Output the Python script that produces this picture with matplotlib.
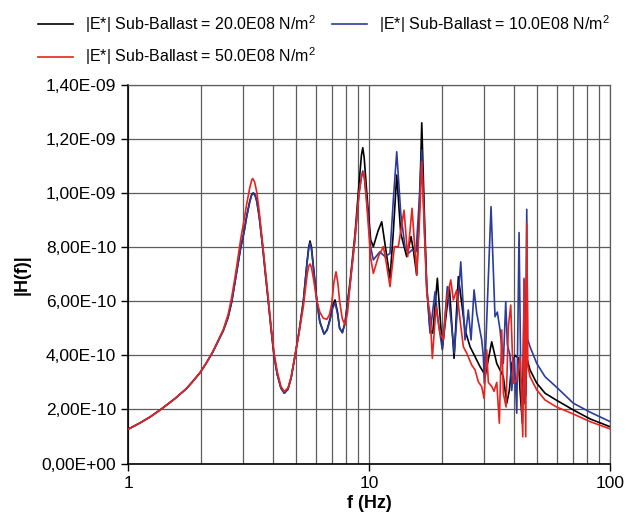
import matplotlib
matplotlib.use("Agg")
import matplotlib.pyplot as plt
from matplotlib.ticker import FixedLocator, FixedFormatter, NullFormatter

plt.rcParams['font.family'] = ['Liberation Sans', 'DejaVu Sans']
plt.rcParams['mathtext.fontset'] = 'custom'
plt.rcParams['mathtext.rm'] = 'Liberation Sans'
plt.rcParams['mathtext.it'] = 'Liberation Sans:italic'

# |H(f)| in units of 1e-10
f_20 = [1.0, 1.121, 1.234, 1.358, 1.401, 1.566, 1.752, 1.85, 1.990, 2.1, 2.19, 2.259,
        2.486, 2.6, 2.693, 2.81, 2.935, 3.03, 3.108, 3.2, 3.26, 3.311, 3.37, 3.42, 3.5,
        3.622, 3.72, 3.821, 3.92, 4.035, 4.16, 4.31, 4.452, 4.61, 4.75, 4.932, 5.12,
        5.339, 5.53, 5.62, 5.691, 5.77, 5.89, 6.08, 6.25, 6.507, 6.7, 6.89, 7.05, 7.225,
        7.4, 7.55, 7.75, 7.95, 8.34, 8.75, 9.09, 9.3, 9.42, 9.55, 9.84, 10.16,
        10.42, 10.9, 11.29, 11.7, 12.22, 12.6, 13.03, 13.54, 14.33, 14.94, 15.27, 15.77,
        16.2, 16.55, 17.0, 17.36, 17.91, 18.38, 19.21, 20.15, 21.54, 22.53, 23.48, 25.02,
        26.25, 27.54, 28.88, 30.01, 30.29, 32.29, 33.88, 36.08, 37.28, 38.21, 39.10, 40.36,
        41.65, 42.33, 43.27, 44.10, 44.6, 45.13, 46.56, 49.65, 53.74, 59.70, 70.42, 82.6,
        100.0]
h_20 = [1.265, 1.50, 1.72, 1.98, 2.07, 2.40, 2.78, 3.02, 3.36, 3.68, 3.95, 4.16,
        4.92, 5.4, 5.98, 6.97, 7.99, 8.56, 9.15, 9.7, 9.95, 10.01, 9.92, 9.72, 9.16,
        7.99, 6.97, 5.99, 5.0, 3.99, 3.3, 2.79, 2.60, 2.75, 3.16, 3.99, 4.85,
        6.0, 7.45, 8.0, 8.23, 8.0, 7.2, 6.0, 5.25, 4.79, 4.95, 5.35, 5.8, 6.05,
        5.6, 5.0, 4.84, 5.2, 6.72, 8.51, 10.36, 11.4, 11.68, 11.3, 9.74, 8.27,
        8.02, 8.6, 8.94, 8.0, 6.85, 8.5, 10.67, 8.51, 7.65, 8.39, 7.9, 6.97,
        9.5, 12.6, 9.0, 6.54, 4.94, 4.82, 6.85, 4.26, 6.54, 3.89, 6.91, 4.94,
        4.32, 3.95, 3.58, 3.34, 3.21, 4.50, 3.7, 3.21, 2.23, 2.7, 3.7, 4.0,
        3.9, 2.7, 1.49, 6.79, 2.5, 3.9, 3.46, 2.97, 2.60, 2.35, 1.98, 1.65,
        1.36]

f_10 = [1.0, 1.121, 1.234, 1.358, 1.401, 1.566, 1.752, 1.85, 1.990, 2.1, 2.19, 2.259,
        2.486, 2.6, 2.693, 2.81, 2.935, 3.03, 3.108, 3.2, 3.26, 3.311, 3.37, 3.42, 3.5,
        3.622, 3.72, 3.821, 3.92, 4.035, 4.16, 4.31, 4.452, 4.61, 4.75, 4.932, 5.12,
        5.339, 5.53, 5.62, 5.691, 5.77, 5.89, 6.08, 6.25, 6.507, 6.7, 6.89, 7.05, 7.225,
        7.4, 7.55, 7.75, 7.95, 8.34, 8.75, 9.09, 9.3, 9.42, 9.55, 9.84, 10.16,
        10.42, 11.08, 11.65, 12.22, 12.61, 13.03, 13.54, 14.10, 14.56, 15.08, 15.67,
        16.1, 16.55, 17.0, 17.36, 17.91, 18.79, 19.39, 20.15, 21.13, 21.83, 22.59, 24.02,
        25.02, 25.82, 26.50, 27.28, 27.99, 29.35, 29.81, 30.09, 32.08, 33.32, 34.07, 34.97,
        36.08, 36.92, 37.49, 38.47, 39.10, 40.09, 41.02, 41.93, 42.62, 43.68, 44.4, 45.13,
        45.5, 46.56, 49.65, 53.74, 59.70, 70.42, 82.6, 100.0]
h_10 = [1.265, 1.50, 1.72, 1.98, 2.07, 2.40, 2.78, 3.02, 3.36, 3.68, 3.95, 4.16,
        4.92, 5.4, 5.98, 6.97, 7.99, 8.56, 9.13, 9.68, 9.93, 9.99, 9.9, 9.7, 9.15,
        7.99, 6.97, 5.99, 5.0, 3.99, 3.3, 2.79, 2.60, 2.75, 3.16, 3.99, 4.85,
        6.0, 7.4, 7.95, 8.15, 7.92, 7.15, 5.95, 5.22, 4.79, 4.93, 5.3, 5.72, 5.95,
        5.55, 5.0, 4.84, 5.2, 6.6, 8.3, 10.0, 10.6, 10.82, 10.6, 9.5, 8.0,
        7.53, 7.83, 7.65, 7.77, 9.74, 11.53, 9.25, 8.02, 7.77, 7.9, 7.83,
        9.5, 11.59, 8.5, 6.54, 4.82, 6.35, 5.2, 4.20, 6.54, 5.4, 4.08, 7.46,
        4.57, 5.68, 4.57, 6.42, 5.55, 4.57, 3.95, 2.97, 9.50, 5.43, 5.6, 4.94,
        3.7, 5.98, 4.4, 4.0, 2.7, 3.9, 1.86, 8.54, 3.2, 2.5, 2.2, 9.40,
        4.6, 4.32, 3.70, 3.21, 2.84, 2.23, 1.9, 1.55]

f_50 = [1.0, 1.121, 1.234, 1.358, 1.401, 1.566, 1.752, 1.85, 1.990, 2.1, 2.19, 2.259,
        2.486, 2.6, 2.693, 2.81, 2.935, 3.03, 3.108, 3.2, 3.26, 3.29, 3.35, 3.42, 3.5,
        3.622, 3.72, 3.821, 3.92, 4.035, 4.16, 4.31, 4.452, 4.61, 4.75, 4.932, 5.12,
        5.339, 5.53, 5.62, 5.691, 5.77, 5.89, 6.08, 6.25, 6.45, 6.677, 6.85, 7.0, 7.15,
        7.295, 7.42, 7.55, 7.75, 7.95, 8.15, 8.34, 8.75, 9.09, 9.3, 9.47, 9.6, 9.84,
        10.16, 10.42, 10.93, 11.47, 11.8, 12.22, 12.74, 13.23, 13.97, 14.47, 15.08, 15.77,
        16.2, 16.55, 17.0, 17.36, 17.91, 18.31, 18.97, 19.71, 20.34, 21.01, 21.83, 22.38,
        23.12, 23.86, 24.62, 25.43, 26.68, 27.54, 28.42, 29.35, 30.01, 30.79, 31.26, 32.29,
        33.01, 33.88, 34.73, 35.53, 36.08, 37.03, 37.85, 38.73, 39.71, 41.02, 42.33, 43.44,
        43.98, 44.7, 45.13, 45.6, 46.56, 49.65, 53.74, 59.70, 70.42, 82.6, 100.0]
h_50 = [1.265, 1.50, 1.72, 1.98, 2.07, 2.40, 2.78, 3.02, 3.36, 3.68, 3.96, 4.18,
        4.96, 5.5, 6.15, 7.15, 8.3, 9.0, 9.6, 10.2, 10.48, 10.54, 10.42, 10.05, 9.35,
        8.1, 7.1, 6.1, 5.1, 4.1, 3.4, 2.85, 2.66, 2.8, 3.2, 4.0, 4.8,
        5.8, 6.95, 7.3, 7.38, 7.25, 6.8, 6.0, 5.6, 5.38, 5.33, 5.5, 5.9, 6.7,
        7.09, 6.7, 6.0, 5.35, 5.12, 5.6, 6.6, 8.4, 10.0, 10.6, 10.77, 10.5, 9.3,
        7.6, 7.03, 7.65, 8.02, 7.4, 6.54, 8.02, 8.02, 9.37, 7.65, 9.44, 6.97,
        9.0, 11.16, 8.5, 6.3, 5.55, 3.89, 5.80, 4.82, 4.57, 6.05, 6.79, 6.05,
        6.42, 5.31, 4.32, 4.08, 3.64, 3.46, 3.02, 2.84, 2.41, 4.20, 3.0, 2.85,
        2.67, 3.0, 1.49, 4.94, 2.6, 2.09, 5.06, 5.86, 2.97, 3.1, 3.95, 0.99,
        6.85, 0.99, 8.88, 3.6, 3.21, 2.72, 2.35, 2.10, 1.83, 1.55, 1.28]

labels = ["|E*| Sub-Ballast = 20.0E08 N/m$^2$",
          "|E*| Sub-Ballast = 50.0E08 N/m$^2$",
          "|E*| Sub-Ballast = 10.0E08 N/m$^2$"]

y_ticks = [0.0, 2e-10, 4e-10, 6e-10, 8e-10, 1e-9, 1.2e-9, 1.4e-9]
y_tick_labels = ["0,00E+00", "2,00E-10", "4,00E-10", "6,00E-10",
                 "8,00E-10", "1,00E-09", "1,20E-09", "1,40E-09"]
x_ticks = [1, 10, 100]
x_tick_labels = ["1", "10", "100"]

grid_col = '#5c5c5c'

fig = plt.figure(figsize=(6.26, 5.15), dpi=100)
ax = fig.add_axes([0.2045, 0.1, 0.77, 0.735])

l20, = ax.plot(f_20, [v * 1e-10 for v in h_20], color='#000000', lw=1.2, zorder=2)
l10, = ax.plot(f_10, [v * 1e-10 for v in h_10], color='#2b3c9c', lw=1.2, zorder=2.5)
l50, = ax.plot(f_50, [v * 1e-10 for v in h_50], color='#e8231f', lw=1.2, zorder=3)

ax.set_xscale('log')
ax.set_xlim(1, 100)
ax.set_ylim(0, 1.4e-9)
ax.xaxis.set_major_locator(FixedLocator(x_ticks))
ax.xaxis.set_major_formatter(FixedFormatter(x_tick_labels))
ax.xaxis.set_minor_formatter(NullFormatter())
ax.yaxis.set_major_locator(FixedLocator(y_ticks))
ax.yaxis.set_major_formatter(FixedFormatter(y_tick_labels))

ax.grid(True, which='both', axis='x', color=grid_col, lw=0.9)
ax.grid(True, which='major', axis='y', color=grid_col, lw=0.9)
ax.set_axisbelow(True)
ax.tick_params(which='major', direction='out', length=5, width=1, labelsize=12.5, color='black')
ax.tick_params(which='minor', length=0)
ax.tick_params(axis='x', pad=4)

for s in ['top', 'right']:
    ax.spines[s].set_color(grid_col)
    ax.spines[s].set_linewidth(0.9)
for s in ['left', 'bottom']:
    ax.spines[s].set_color('black')
    ax.spines[s].set_linewidth(1.2)

ax.set_xlabel("f (Hz)", fontsize=13, fontweight='bold', labelpad=3)
ax.set_ylabel("|H(f)|", fontsize=13, fontweight='bold', labelpad=8)

fig.legend([l20, l50, l10], labels, ncol=2, loc='upper left',
           bbox_to_anchor=(0.06, 0.975), frameon=False, fontsize=11.5,
           handlelength=2.2, handletextpad=0.75, columnspacing=1.0,
           labelspacing=0.7, borderpad=0, borderaxespad=0)

fig.savefig("out.png", dpi=100)
